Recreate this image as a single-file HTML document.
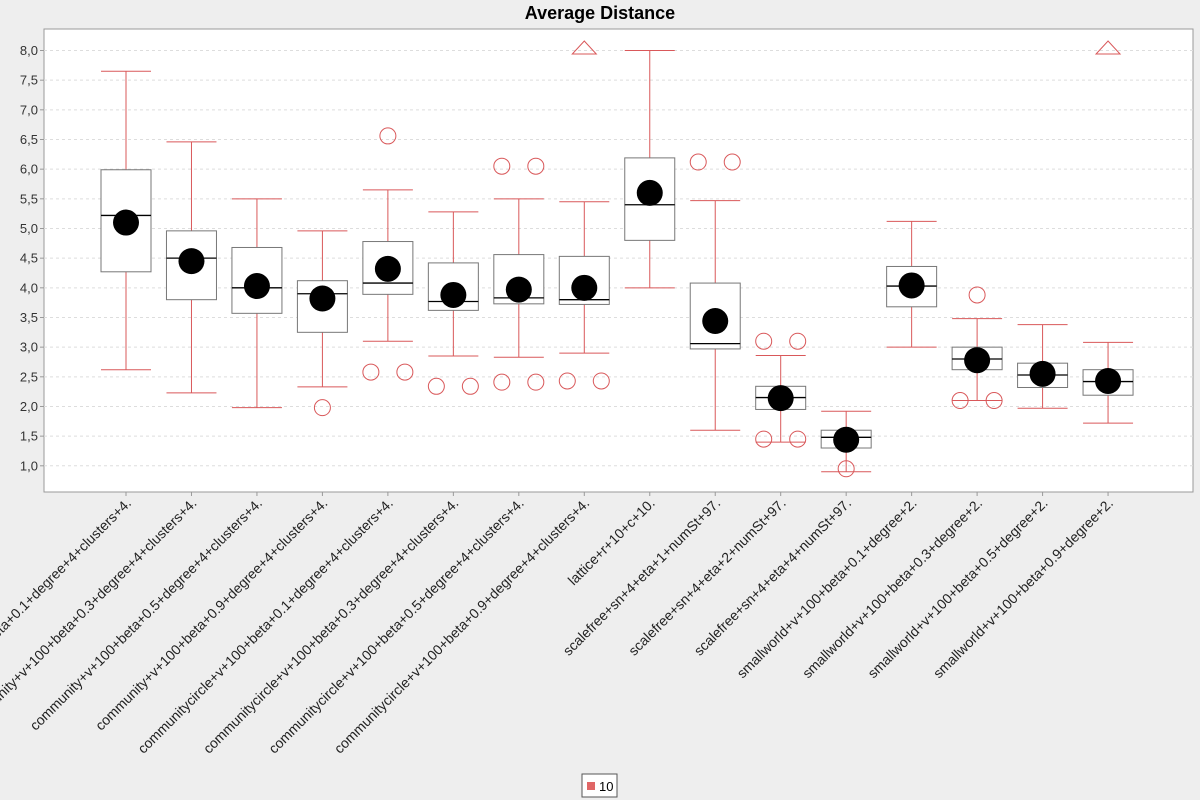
<!DOCTYPE html>
<html><head><meta charset="utf-8"><style>
body{margin:0;background:#eeeeee;}
svg{display:block;font-family:"Liberation Sans",Arial,sans-serif;}
</style></head><body>
<svg id="chart" width="1200" height="800">
<text x="600" y="19" text-anchor="middle" font-size="18" font-weight="bold" fill="#000">Average Distance</text>
<rect x="44" y="29" width="1149" height="463" fill="#fff" stroke="#999"/>
<g id="grid"></g><g id="marks"></g><g id="labels"></g>
<g>
<rect x="582" y="774" width="35" height="23" fill="#fff" stroke="#555"/>
<rect x="587" y="782" width="8" height="8" fill="#e06666"/>
<text x="599" y="791" font-size="13">10</text>
</g>
</svg>
<script>
const categories=["community+v+100+beta+0.1+degree+4+clusters+4.","community+v+100+beta+0.3+degree+4+clusters+4.","community+v+100+beta+0.5+degree+4+clusters+4.","community+v+100+beta+0.9+degree+4+clusters+4.","communitycircle+v+100+beta+0.1+degree+4+clusters+4.","communitycircle+v+100+beta+0.3+degree+4+clusters+4.","communitycircle+v+100+beta+0.5+degree+4+clusters+4.","communitycircle+v+100+beta+0.9+degree+4+clusters+4.","lattice+r+10+c+10.","scalefree+sn+4+eta+1+numSt+97.","scalefree+sn+4+eta+2+numSt+97.","scalefree+sn+4+eta+4+numSt+97.","smallworld+v+100+beta+0.1+degree+2.","smallworld+v+100+beta+0.3+degree+2.","smallworld+v+100+beta+0.5+degree+2.","smallworld+v+100+beta+0.9+degree+2."];
const whiskerLow=[2.62,2.23,1.98,2.33,3.1,2.85,2.83,2.9,4.0,1.6,1.4,0.9,3.0,2.1,1.97,1.72];
const q1=[4.27,3.8,3.57,3.25,3.89,3.62,3.73,3.72,4.8,2.97,1.95,1.3,3.68,2.62,2.32,2.19];
const median=[5.22,4.5,4.0,3.9,4.08,3.77,3.83,3.8,5.4,3.06,2.15,1.48,4.03,2.8,2.53,2.42];
const q3=[5.99,4.96,4.68,4.12,4.78,4.42,4.56,4.53,6.19,4.08,2.34,1.6,4.36,3.0,2.73,2.62];
const whiskerHigh=[7.65,6.46,5.5,4.96,5.65,5.28,5.5,5.45,8.0,5.47,2.86,1.92,5.12,3.48,3.38,3.08];
const means=[5.1,4.45,4.03,3.82,4.32,3.88,3.97,4.0,5.6,3.44,2.14,1.44,4.04,2.78,2.55,2.43];
// outliers: [categoryIndex, value, count]
const outliers=[[3,1.98,1],[4,6.56,1],[4,2.58,2],[5,2.34,2],[6,6.05,2],[6,2.41,2],[7,2.43,2],[9,6.12,2],[10,3.1,2],[10,1.45,2],[11,0.95,1],[13,3.88,1],[13,2.1,2]];
const farOut=[7,15];
const yTicks=[1,1.5,2,2.5,3,3.5,4,4.5,5,5.5,6,6.5,7,7.5,8];

const NS="http://www.w3.org/2000/svg";
function y(v){return 50.5+(8-v)*59.33;}
function x(i){return 126+i*65.47;}
function mk(tag,attrs,parent){const e=document.createElementNS(NS,tag);for(const k in attrs)e.setAttribute(k,attrs[k]);parent.appendChild(e);return e;}
const grid=document.getElementById('grid'),marks=document.getElementById('marks'),labels=document.getElementById('labels');
yTicks.forEach(t=>{
 const l=mk('line',{x1:44,x2:1193,y1:y(t),y2:y(t),stroke:'#ddd','stroke-dasharray':'3,3'},grid);
 
 
 const tk=mk('line',{x1:40,x2:44,y1:y(t),y2:y(t),stroke:'#999'},grid);
 
 
 const tx=mk('text',{x:38,y:y(t)+4.5,'text-anchor':'end','font-size':'13',fill:'#333'},labels);
 tx.textContent=t.toFixed(1).replace('.',',');
 
 
});
const red='#d9585a';
categories.forEach((c,i)=>{
 const cx=x(i);
 const g=mk('g',{},marks);
 
 
 mk('line',{x1:cx,x2:cx,y1:y(whiskerHigh[i]),y2:y(q3[i]),stroke:red},g);
 mk('line',{x1:cx,x2:cx,y1:y(q1[i]),y2:y(whiskerLow[i]),stroke:red},g);
 mk('line',{x1:cx-25,x2:cx+25,y1:y(whiskerHigh[i]),y2:y(whiskerHigh[i]),stroke:red},g);
 mk('line',{x1:cx-25,x2:cx+25,y1:y(whiskerLow[i]),y2:y(whiskerLow[i]),stroke:red},g);
 mk('rect',{x:cx-25,y:y(q3[i]),width:50,height:y(q1[i])-y(q3[i]),fill:'#fff',stroke:'#777'},g);
 mk('line',{x1:cx-25,x2:cx+25,y1:y(median[i]),y2:y(median[i]),stroke:'#000','stroke-width':1.3},g);
 const m=mk('circle',{cx:cx,cy:y(means[i]),r:13,fill:'#000'},g);
 
 
 const tk=mk('line',{x1:cx,x2:cx,y1:492,y2:496,stroke:'#999'},labels);
 
 
 const t=mk('text',{x:cx+6,y:504,'text-anchor':'end','font-size':'14',fill:'#222',transform:`rotate(-45 ${cx+6} 504)`},labels);
 t.textContent=c;
 
 
});
outliers.forEach(o=>{
 const cx=x(o[0]);
 const offs=o[2]===2?[-17,17]:[0];
 offs.forEach(d=>{
  const c=mk('circle',{cx:cx+d,cy:y(o[1]),r:8,fill:'none',stroke:red},marks);
  
  
 });
});
farOut.forEach(i=>{
 const cx=x(i);
 const p=mk('polygon',{points:`${cx-12},54 ${cx+12},54 ${cx},41`,fill:'none',stroke:red},marks);
 
 
});
</script>
</body></html>
